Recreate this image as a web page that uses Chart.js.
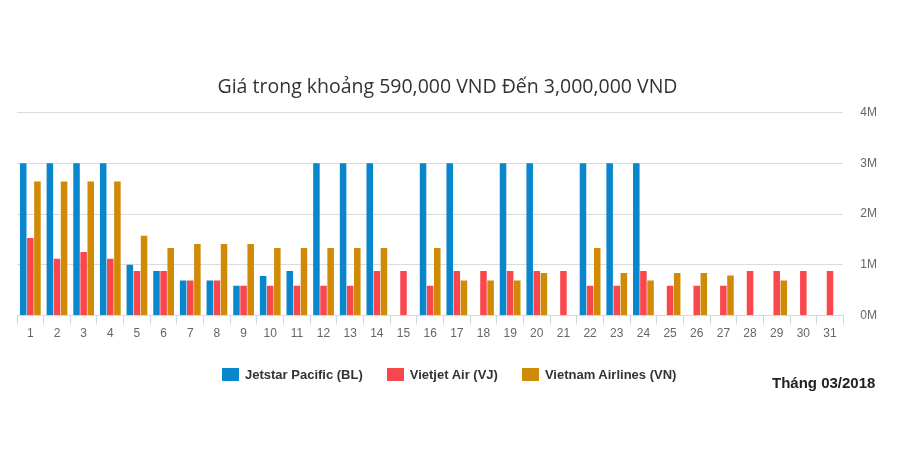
<!DOCTYPE html>
<html>
<head>
<meta charset="utf-8">
<script src="https://cdn.jsdelivr.net/npm/chart.js@4"></script>
<style>
  body { margin: 0; background: #fff; }
  #wrap { position: relative; width: 900px; height: 471px; }
  #legend { position: absolute; left: 222px; top: 367px; display: flex; font: bold 13px "Liberation Sans", Arial, sans-serif; color: #333; }
  .item { display: flex; align-items: center; margin-right: 24px; }
  .box { width: 17px; height: 13px; margin-right: 6px; }
  #month { position: absolute; left: 772px; top: 374px; font: bold 15px "Liberation Sans", Arial, sans-serif; color: #222; }
</style>
</head>
<body>
<div id="wrap">
  <canvas id="priceChart"></canvas>
  <div id="legend"></div>
  <div id="month">Tháng 03/2018</div>
</div>
<script>
const days = ['1','2','3','4','5','6','7','8','9','10','11','12','13','14','15','16','17','18','19','20','21','22','23','24','25','26','27','28','29','30','31'];

const jetstar = [3000000, 3000000, 3000000, 3000000, 1000000, 880000, 690000, 690000, 590000, 780000, 880000,
    3000000, 3000000, 3000000, null, 3000000, 3000000, null, 3000000, 3000000, null,
    3000000, 3000000, 3000000, null, null, null, null, null, null, null];
const vietjet = [1530000, 1120000, 1250000, 1120000, 880000, 880000, 690000, 690000, 590000, 590000, 590000,
    590000, 590000, 880000, 880000, 590000, 880000, 880000, 880000, 880000, 880000,
    590000, 590000, 880000, 590000, 590000, 590000, 880000, 880000, 880000, 880000];
const vietnamAirlines = [2640000, 2640000, 2640000, 2640000, 1570000, 1330000, 1410000, 1410000, 1410000, 1330000, 1330000,
    1330000, 1330000, 1330000, null, 1330000, 690000, 690000, 690000, 840000, null,
    1330000, 840000, 690000, 840000, 840000, 790000, null, 690000, null, null];

const seriesNames = ['Jetstar Pacific (BL)', 'Vietjet Air (VJ)', 'Vietnam Airlines (VN)'];
const seriesColors = ['#0a87cc', '#f9474e', '#d18a06'];
const seriesData = [jetstar, vietjet, vietnamAirlines];

// title sits a bit left of the canvas centre in the original
const titleShift = {
    id: 'titleShift',
    afterLayout(chart) {
        chart.titleBlock.left -= 8;
        chart.titleBlock.right -= 8;
    }
};

const ctx = document.getElementById('priceChart').getContext('2d');
const chart = new Chart(ctx, {
    type: 'bar',
    data: {
        labels: days,
        datasets: seriesNames.map((name, i) => ({
            label: name,
            data: seriesData[i],
            backgroundColor: seriesColors[i],
            borderWidth: 0,
            barPercentage: 0.92,
            categoryPercentage: 0.8
        }))
    },
    options: {
        responsive: true,
        maintainAspectRatio: false,
        animation: false,
        layout: { padding: { top: 76, left: 17, right: 6, bottom: 128 } },
        plugins: {
            legend: { display: false },
            tooltip: { enabled: false },
            title: {
                display: true,
                text: 'Giá trong khoảng 590,000 VND Đến 3,000,000 VND',
                color: '#333',
                font: { family: '"Open Sans", Arial, sans-serif', size: 19.5, weight: 'normal' },
                padding: { top: 0, bottom: 13 }
            }
        },
        scales: {
            x: {
                grid: { display: true, drawOnChartArea: false, drawTicks: true, tickLength: 9, color: '#c9daea', offset: true },
                border: { display: true, color: '#c9daea' },
                ticks: { color: '#666', font: { family: 'Arial, sans-serif', size: 12 }, padding: 2, autoSkip: false, maxRotation: 0 }
            },
            y: {
                position: 'right',
                min: 0,
                max: 4000000,
                grid: { color: '#dcdcdc', drawTicks: false },
                border: { display: false },
                ticks: {
                    stepSize: 1000000,
                    padding: 17,
                    color: '#666',
                    font: { family: 'Arial, sans-serif', size: 12 },
                    callback: v => (v / 1000000) + 'M'
                }
            }
        }
    },
    plugins: [titleShift]
});

const legend = document.getElementById('legend');
seriesNames.forEach((name, i) => {
    const item = document.createElement('div');
    item.className = 'item';
    item.innerHTML = `<span class="box" style="background:${seriesColors[i]}"></span><span>${name}</span>`;
    legend.appendChild(item);
});
</script>
</body>
</html>
